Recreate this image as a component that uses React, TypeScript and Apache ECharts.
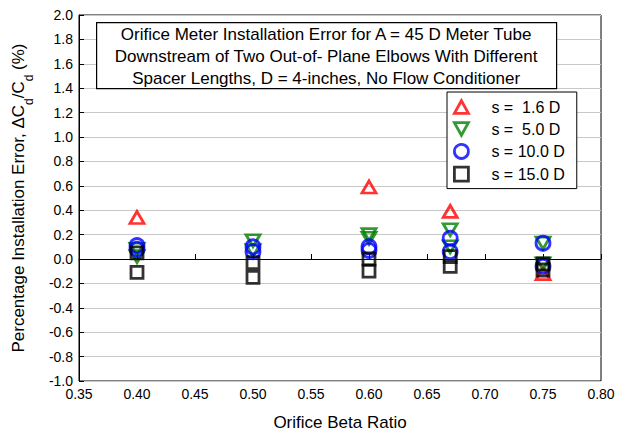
import React, { useEffect, useRef } from "react";
import * as echarts from "echarts";

const FONT = "'Liberation Sans', Arial, sans-serif";

const titleLines = [
  "Orifice Meter Installation Error for A = 45 D Meter Tube",
  "Downstream of Two Out-of- Plane Elbows With Different",
  "Spacer Lengths, D = 4-inches, No Flow Conditioner",
];

const seriesNames = ["s =  1.6 D", "s =  5.0 D", "s = 10.0 D", "s = 15.0 D"];

// [beta, error %]
const s16: number[][] = [
  [0.4, 0.34],
  [0.6, 0.59],
  [0.67, 0.39],
  [0.75, -0.12],
];
const s50: number[][] = [
  [0.4, 0.08],
  [0.4, 0.02],
  [0.5, 0.15],
  [0.5, 0.07],
  [0.6, 0.2],
  [0.6, 0.17],
  [0.67, 0.24],
  [0.67, 0.1],
  [0.75, 0.13],
  [0.75, -0.04],
];
const s100: number[][] = [
  [0.4, 0.11],
  [0.4, 0.08],
  [0.5, 0.1],
  [0.5, 0.06],
  [0.6, 0.1],
  [0.6, 0.07],
  [0.67, 0.17],
  [0.67, 0.06],
  [0.75, 0.13],
  [0.75, -0.06],
];
const s150: number[][] = [
  [0.4, 0.05],
  [0.4, -0.11],
  [0.5, -0.03],
  [0.5, -0.15],
  [0.6, 0.0],
  [0.6, -0.1],
  [0.67, 0.02],
  [0.67, -0.06],
  [0.75, -0.04],
  [0.75, -0.09],
];

const colors = ["#ff0000", "#008000", "#0000ff", "#000000"];
const DOWN_TRI = "path://M0,0 L10,0 L5,9 Z";
const UP_TRI = "path://M5,0 L10,9 L0,9 Z";

export default function App() {
  const ref = useRef<HTMLDivElement>(null);
  useEffect(() => {
    if (!ref.current) return;
    const chart = echarts.init(ref.current, undefined, { renderer: "svg" });
    const mk = (name: string, data: number[][], i: number, symbol: string, size: number | number[]) => ({
      name,
      type: "scatter",
      data,
      symbol,
      symbolSize: size,
      itemStyle: { color: "rgba(255,255,255,0)", borderColor: colors[i], borderWidth: 2.8 },
      z: 3 + i,
    });
    const s0: any = mk(seriesNames[0], s16, 0, UP_TRI, [14, 12]);
    s0.markLine = {
      silent: true,
      symbol: "none",
      label: { show: false },
      lineStyle: { color: "#000", width: 1.2, type: "solid" },
      data: [{ yAxis: 0 }],
      z: 1,
    };
    chart.setOption({
      animation: false,
      textStyle: { fontFamily: FONT },
      grid: { left: 79, right: 27, top: 15, bottom: 59, show: true, borderColor: "#000", borderWidth: 1 },
      xAxis: {
        type: "value",
        min: 0.35,
        max: 0.8,
        interval: 0.05,
        name: "Orifice Beta Ratio",
        nameLocation: "middle",
        nameGap: 33,
        nameTextStyle: { fontSize: 17, color: "#000", fontFamily: FONT },
        axisLine: { lineStyle: { color: "#000" } },
        axisTick: { inside: true, length: 5, lineStyle: { color: "#000" } },
        axisLabel: { fontSize: 14, color: "#000", margin: 6, formatter: (v: number) => v.toFixed(2) },
        splitLine: { show: false },
      },
      yAxis: {
        type: "value",
        min: -1,
        max: 2,
        interval: 0.2,
        name: "Percentage Installation Error, ΔC{sub|d}/C{sub|d} (%)",
        nameLocation: "middle",
        nameGap: 52,
        nameTextStyle: {
          fontSize: 17,
          color: "#000",
          fontFamily: FONT,
          rich: { sub: { fontSize: 12, verticalAlign: "bottom", padding: [0, 0, -8, 0], color: "#000", fontFamily: FONT } },
        },
        axisLine: { lineStyle: { color: "#000" } },
        axisTick: { inside: true, length: 5, lineStyle: { color: "#000" } },
        axisLabel: { fontSize: 14, color: "#000", margin: 6, formatter: (v: number) => v.toFixed(1) },
        splitLine: { show: true, lineStyle: { color: "#c8c8c8", width: 1 } },
      },
      legend: {
        orient: "vertical",
        left: 447,
        top: 92,
        width: 131,
        padding: [7, 12, 6, 6],
        itemGap: 6,
        itemWidth: 14,
        itemHeight: 14,
        itemStyle: { borderWidth: 2.8 },
        backgroundColor: "#fff",
        borderColor: "#000",
        borderWidth: 1,
        textStyle: { fontSize: 16, color: "#000", fontFamily: FONT, padding: [0, 0, 0, 18] },
        data: seriesNames,
      },
      graphic: [
        {
          type: "group",
          left: 96,
          top: 22,
          z: 100,
          children: [
            {
              type: "rect",
              z: 100,
              shape: { x: 0.5, y: 0.5, width: 460, height: 66 },
              style: { fill: "#fff", stroke: "#000", lineWidth: 1.2 },
            },
            {
              type: "text",
              z: 101,
              x: 230,
              y: 34,
              style: {
                text: titleLines.join("\n"),
                fontSize: 17,
                lineHeight: 22,
                fontFamily: FONT,
                fill: "#000",
                align: "center",
                verticalAlign: "middle",
              },
            },
          ],
        },
      ],
      series: [
        s0,
        mk(seriesNames[1], s50, 1, DOWN_TRI, [14, 12]),
        mk(seriesNames[2], s100, 2, "circle", 14),
        mk(seriesNames[3], s150, 3, "rect", 12),
      ],
    });
    return () => chart.dispose();
  }, []);
  return <div ref={ref} style={{ width: 628, height: 440, margin: -8 }} />;
}
